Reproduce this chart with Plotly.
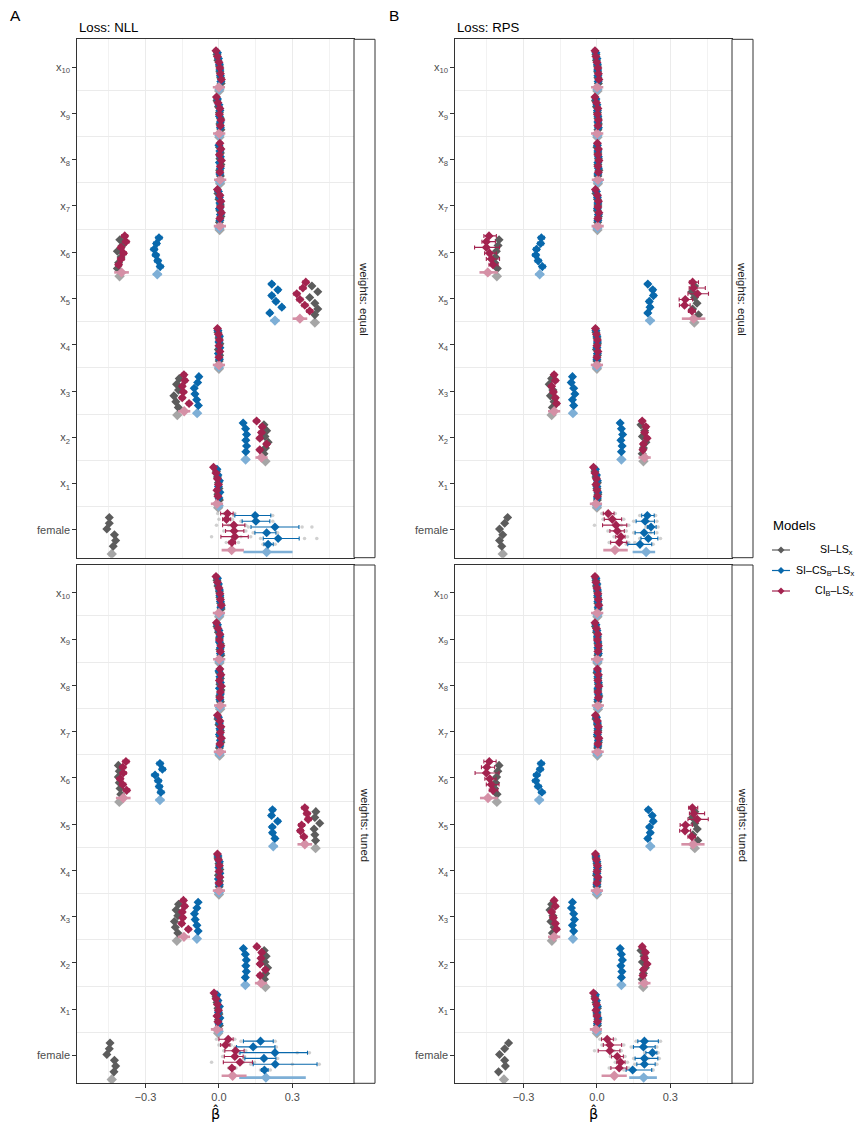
import plotly.graph_objects as go

W, H = 865, 1127
OFF = 8  # page body margin of the html page

# ---------------- data ----------------
categories = ["female", "x1", "x2", "x3", "x4", "x5", "x6", "x7", "x8", "x9", "x10"]
cat_labels = ["female"] + ["x<sub>%d</sub>" % i for i in range(1, 11)]
x_ticks = [-0.3, 0.0, 0.3]
x_tick_labels = ["\u22120.3", "0.0", "0.3"]
model_names = ["SI\u2013LS<sub>x</sub>", "SI\u2013CS<sub>B</sub>\u2013LS<sub>x</sub>", "CI<sub>B</sub>\u2013LS<sub>x</sub>"]
loss_titles = ["Loss: NLL", "Loss: RPS"]
weight_titles = ["weights: equal", "weights: tuned"]

# rows: female, x1..x10 ; columns: runs 1-6 (top to bottom), aggregate
nll_equal_si = [
    [-0.448, -0.448, -0.458, -0.427, -0.422, -0.432, -0.438],
    [-0.010, -0.006, -0.002, 0.000, -0.004, 0.002, -0.003],
    [0.184, 0.195, 0.188, 0.201, 0.190, 0.184, 0.190],
    [-0.162, -0.173, -0.165, -0.184, -0.176, -0.166, -0.170],
    [-0.004, 0.000, 0.004, -0.002, 0.003, 0.001, 0.000],
    [0.380, 0.404, 0.371, 0.392, 0.404, 0.392, 0.392],
    [-0.405, -0.395, -0.415, -0.400, -0.410, -0.415, -0.406],
    [-0.004, 0.000, 0.006, 0.004, 0.008, 0.002, 0.003],
    [0.002, 0.006, 0.004, 0.008, 0.003, 0.006, 0.005],
    [-0.008, -0.002, 0.002, 0.006, 0.004, 0.008, 0.002],
    [-0.008, -0.004, 0.002, 0.004, 0.007, 0.009, 0.001],
]
nll_equal_cs = [
    [0.148, 0.151, 0.229, 0.195, 0.242, 0.201, 0.195],
    [-0.008, -0.004, 0.002, -0.002, 0.004, 0.000, -0.001],
    [0.099, 0.109, 0.113, 0.110, 0.113, 0.110, 0.109],
    [-0.082, -0.087, -0.101, -0.098, -0.091, -0.084, -0.089],
    [-0.004, 0.002, 0.000, 0.004, -0.002, 0.002, 0.000],
    [0.216, 0.241, 0.216, 0.233, 0.257, 0.208, 0.229],
    [-0.245, -0.255, -0.265, -0.258, -0.250, -0.240, -0.252],
    [-0.002, 0.002, 0.004, 0.002, 0.006, 0.004, 0.002],
    [0.000, 0.004, 0.006, 0.002, 0.006, 0.004, 0.004],
    [-0.006, 0.000, 0.004, 0.002, 0.006, 0.006, 0.002],
    [-0.006, -0.002, 0.002, 0.004, 0.006, 0.008, 0.002],
]
nll_equal_ci = [
    [0.035, 0.031, 0.061, 0.062, 0.065, 0.053, 0.052],
    [-0.022, -0.012, -0.006, -0.002, -0.008, -0.004, -0.008],
    [0.154, 0.177, 0.174, 0.167, 0.195, 0.167, 0.174],
    [-0.143, -0.139, -0.150, -0.145, -0.150, -0.122, -0.142],
    [-0.006, -0.002, 0.002, 0.000, 0.004, 0.000, 0.000],
    [0.355, 0.343, 0.318, 0.331, 0.351, 0.371, 0.331],
    [-0.385, -0.380, -0.400, -0.390, -0.400, -0.410, -0.398],
    [-0.006, 0.004, 0.008, 0.006, 0.010, 0.004, 0.004],
    [0.004, 0.008, 0.002, 0.010, 0.006, 0.004, 0.005],
    [-0.010, -0.004, 0.004, 0.002, 0.008, 0.006, 0.001],
    [-0.012, -0.006, 0.000, 0.004, 0.006, 0.010, 0.000],
]

rps_equal_si = [
    [-0.365, -0.377, -0.398, -0.385, -0.398, -0.389, -0.385],
    [-0.008, -0.004, 0.002, 0.000, 0.004, 0.002, 0.000],
    [0.180, 0.195, 0.186, 0.200, 0.190, 0.185, 0.190],
    [-0.185, -0.195, -0.180, -0.190, -0.175, -0.182, -0.185],
    [-0.004, 0.000, 0.002, -0.002, 0.002, 0.000, 0.000],
    [0.399, 0.388, 0.399, 0.409, 0.391, 0.415, 0.398],
    [-0.400, -0.404, -0.411, -0.415, -0.418, -0.407, -0.409],
    [-0.004, 0.002, 0.004, 0.002, 0.006, 0.003, 0.002],
    [0.000, 0.004, 0.006, 0.004, 0.008, 0.004, 0.004],
    [-0.006, -0.002, 0.002, 0.004, 0.006, 0.004, 0.002],
    [-0.004, -0.002, 0.002, 0.003, 0.004, 0.006, 0.002],
]
rps_equal_cs = [
    [0.206, 0.197, 0.221, 0.193, 0.210, 0.176, 0.201],
    [-0.006, -0.002, 0.002, 0.000, 0.004, 0.002, 0.000],
    [0.095, 0.100, 0.105, 0.098, 0.103, 0.100, 0.100],
    [-0.100, -0.105, -0.095, -0.090, -0.100, -0.095, -0.098],
    [-0.004, 0.000, 0.002, 0.000, 0.002, 0.000, 0.000],
    [0.208, 0.228, 0.231, 0.214, 0.217, 0.208, 0.217],
    [-0.227, -0.230, -0.247, -0.250, -0.240, -0.223, -0.234],
    [-0.002, 0.002, 0.004, 0.002, 0.006, 0.004, 0.002],
    [0.002, 0.004, 0.006, 0.004, 0.006, 0.004, 0.004],
    [-0.004, 0.000, 0.002, 0.004, 0.004, 0.006, 0.002],
    [-0.004, 0.000, 0.002, 0.003, 0.004, 0.005, 0.002],
]
rps_equal_ci = [
    [0.046, 0.063, 0.078, 0.083, 0.098, 0.091, 0.074],
    [-0.014, -0.008, -0.002, -0.004, 0.000, 0.002, -0.004],
    [0.185, 0.200, 0.195, 0.205, 0.190, 0.188, 0.195],
    [-0.175, -0.170, -0.185, -0.178, -0.170, -0.165, -0.175],
    [-0.006, -0.002, 0.002, 0.000, 0.004, 0.000, 0.000],
    [0.391, 0.395, 0.411, 0.361, 0.358, 0.388, 0.395],
    [-0.441, -0.452, -0.452, -0.439, -0.432, -0.425, -0.446],
    [-0.006, 0.002, 0.006, 0.004, 0.008, 0.004, 0.003],
    [0.002, 0.006, 0.004, 0.008, 0.004, 0.006, 0.004],
    [-0.008, -0.002, 0.004, 0.002, 0.006, 0.004, 0.001],
    [-0.008, -0.004, 0.000, 0.004, 0.006, 0.008, 0.001],
]

nll_tuned_si = [
    [-0.445, -0.448, -0.458, -0.427, -0.422, -0.429, -0.438],
    [-0.012, -0.008, -0.004, 0.000, -0.002, 0.002, -0.003],
    [0.185, 0.193, 0.188, 0.199, 0.191, 0.186, 0.190],
    [-0.165, -0.175, -0.168, -0.182, -0.178, -0.168, -0.172],
    [-0.004, 0.000, 0.004, -0.002, 0.003, 0.001, 0.000],
    [0.396, 0.392, 0.412, 0.389, 0.392, 0.395, 0.395],
    [-0.411, -0.407, -0.411, -0.407, -0.404, -0.401, -0.407],
    [-0.004, 0.000, 0.006, 0.004, 0.008, 0.002, 0.003],
    [0.002, 0.006, 0.004, 0.008, 0.003, 0.006, 0.005],
    [-0.008, -0.002, 0.002, 0.006, 0.004, 0.008, 0.002],
    [-0.008, -0.004, 0.002, 0.004, 0.007, 0.009, 0.001],
]
nll_tuned_cs = [
    [0.170, 0.140, 0.229, 0.184, 0.230, 0.186, 0.192],
    [-0.008, -0.004, 0.002, -0.002, 0.004, 0.000, -0.001],
    [0.100, 0.108, 0.112, 0.110, 0.112, 0.108, 0.108],
    [-0.085, -0.090, -0.100, -0.097, -0.090, -0.085, -0.090],
    [-0.004, 0.002, 0.000, 0.004, -0.002, 0.002, 0.000],
    [0.219, 0.215, 0.240, 0.218, 0.219, 0.229, 0.222],
    [-0.241, -0.231, -0.261, -0.248, -0.244, -0.237, -0.241],
    [-0.002, 0.002, 0.004, 0.002, 0.006, 0.004, 0.002],
    [0.000, 0.004, 0.006, 0.002, 0.006, 0.004, 0.004],
    [-0.006, 0.000, 0.004, 0.002, 0.006, 0.006, 0.002],
    [-0.006, -0.002, 0.002, 0.004, 0.006, 0.008, 0.002],
]
nll_tuned_ci = [
    [0.038, 0.027, 0.068, 0.065, 0.086, 0.053, 0.056],
    [-0.020, -0.012, -0.006, -0.002, -0.008, -0.004, -0.008],
    [0.155, 0.175, 0.172, 0.168, 0.190, 0.168, 0.172],
    [-0.145, -0.140, -0.150, -0.148, -0.152, -0.125, -0.143],
    [-0.006, -0.002, 0.002, 0.000, 0.004, 0.000, 0.000],
    [0.351, 0.360, 0.365, 0.338, 0.333, 0.347, 0.351],
    [-0.380, -0.393, -0.391, -0.404, -0.393, -0.377, -0.391],
    [-0.006, 0.004, 0.008, 0.006, 0.010, 0.004, 0.004],
    [0.004, 0.008, 0.002, 0.010, 0.006, 0.004, 0.005],
    [-0.010, -0.004, 0.004, 0.002, 0.008, 0.006, 0.001],
    [-0.012, -0.006, 0.000, 0.004, 0.006, 0.010, 0.000],
]

rps_tuned_si = [
    [-0.361, -0.377, -0.398, -0.377, -0.374, -0.402, -0.380],
    [-0.008, -0.004, 0.002, 0.000, 0.004, 0.002, 0.000],
    [0.180, 0.192, 0.186, 0.198, 0.190, 0.185, 0.189],
    [-0.185, -0.192, -0.180, -0.188, -0.175, -0.182, -0.184],
    [-0.004, 0.000, 0.002, -0.002, 0.002, 0.000, 0.000],
    [0.400, 0.390, 0.400, 0.410, 0.392, 0.412, 0.400],
    [-0.400, -0.405, -0.410, -0.414, -0.418, -0.408, -0.409],
    [-0.004, 0.002, 0.004, 0.002, 0.006, 0.003, 0.002],
    [0.000, 0.004, 0.006, 0.004, 0.008, 0.004, 0.004],
    [-0.006, -0.002, 0.002, 0.004, 0.006, 0.004, 0.002],
    [-0.004, -0.002, 0.002, 0.003, 0.004, 0.006, 0.002],
]
rps_tuned_cs = [
    [0.194, 0.190, 0.227, 0.194, 0.194, 0.146, 0.191],
    [-0.006, -0.002, 0.002, 0.000, 0.004, 0.002, 0.000],
    [0.095, 0.100, 0.104, 0.098, 0.102, 0.100, 0.100],
    [-0.100, -0.104, -0.095, -0.092, -0.100, -0.095, -0.098],
    [-0.004, 0.000, 0.002, 0.000, 0.002, 0.000, 0.000],
    [0.210, 0.226, 0.230, 0.215, 0.218, 0.208, 0.218],
    [-0.228, -0.232, -0.246, -0.250, -0.240, -0.225, -0.236],
    [-0.002, 0.002, 0.004, 0.002, 0.006, 0.004, 0.002],
    [0.002, 0.004, 0.006, 0.004, 0.006, 0.004, 0.004],
    [-0.004, 0.000, 0.002, 0.004, 0.004, 0.006, 0.002],
    [-0.004, 0.000, 0.002, 0.003, 0.004, 0.005, 0.002],
]
rps_tuned_ci = [
    [0.042, 0.053, 0.053, 0.083, 0.097, 0.091, 0.071],
    [-0.014, -0.008, -0.002, -0.004, 0.000, 0.002, -0.004],
    [0.185, 0.198, 0.195, 0.205, 0.190, 0.188, 0.194],
    [-0.175, -0.170, -0.185, -0.178, -0.170, -0.165, -0.175],
    [-0.006, -0.002, 0.002, 0.000, 0.004, 0.000, 0.000],
    [0.390, 0.396, 0.410, 0.362, 0.360, 0.388, 0.393],
    [-0.440, -0.450, -0.452, -0.438, -0.432, -0.425, -0.445],
    [-0.006, 0.002, 0.006, 0.004, 0.008, 0.004, 0.003],
    [0.002, 0.006, 0.004, 0.008, 0.004, 0.006, 0.004],
    [-0.008, -0.002, 0.004, 0.002, 0.006, 0.004, 0.001],
    [-0.008, -0.004, 0.000, 0.004, 0.006, 0.008, 0.001],
]

# typical error-bar half widths per category (runs / aggregate)
run_half_cs = [0.0, 0.006, 0.008, 0.008, 0.006, 0.010, 0.012, 0.006, 0.006, 0.006, 0.006]
run_half_ci = [0.0, 0.008, 0.010, 0.010, 0.008, 0.012, 0.012, 0.008, 0.008, 0.008, 0.008]
agg_half_cs = [0.0, 0.015, 0.015, 0.015, 0.015, 0.018, 0.018, 0.015, 0.015, 0.015, 0.015]
agg_half_ci = [0.0, 0.025, 0.025, 0.025, 0.025, 0.030, 0.030, 0.025, 0.025, 0.025, 0.025]

# explicit lower / upper limits where they are wide (runs 1-6, aggregate)
nll_equal_ci_lim = {
    "female": ([0.007, 0.015, 0.015, 0.027, 0.008, 0.041, 0.011], [0.058, 0.048, 0.106, 0.102, 0.120, 0.068, 0.102]),
}
nll_equal_cs_lim = {
    "female": ([0.065, 0.095, 0.131, 0.147, 0.181, 0.184, 0.100], [0.212, 0.208, 0.327, 0.233, 0.328, 0.222, 0.301]),
}
rps_equal_ci_lim = {
    "female": ([0.026, 0.030, 0.023, 0.053, 0.077, 0.056, 0.026], [0.070, 0.101, 0.122, 0.112, 0.115, 0.122, 0.126]),
    "x5": ([0.378, 0.377, 0.372, 0.336, 0.337, 0.374, 0.347], [0.415, 0.443, 0.456, 0.391, 0.381, 0.402, 0.443]),
    "x6": ([-0.462, -0.470, -0.500, -0.459, -0.452, -0.441, -0.480], [-0.411, -0.415, -0.398, -0.411, -0.398, -0.404, -0.405]),
}
rps_equal_cs_lim = {
    "female": ([0.183, 0.160, 0.206, 0.156, 0.180, 0.126, 0.146], [0.234, 0.235, 0.242, 0.235, 0.249, 0.224, 0.238]),
}
nll_tuned_ci_lim = {
    "female": ([0.000, 0.007, 0.024, 0.022, 0.018, 0.045, 0.011], [0.058, 0.045, 0.103, 0.099, 0.137, 0.065, 0.113]),
}
nll_tuned_cs_lim = {
    "female": ([0.100, 0.072, 0.086, 0.106, 0.140, 0.174, 0.083], [0.222, 0.229, 0.362, 0.233, 0.401, 0.201, 0.355]),
}
rps_tuned_ci_lim = {
    "female": ([0.019, 0.026, 0.005, 0.060, 0.081, 0.057, 0.019], [0.067, 0.101, 0.094, 0.108, 0.115, 0.122, 0.122]),
    "x5": ([0.375, 0.378, 0.372, 0.340, 0.338, 0.372, 0.345], [0.412, 0.440, 0.455, 0.390, 0.383, 0.402, 0.440]),
    "x6": ([-0.462, -0.472, -0.498, -0.458, -0.452, -0.440, -0.478], [-0.412, -0.418, -0.400, -0.412, -0.400, -0.405, -0.405]),
}
rps_tuned_cs_lim = {
    "female": ([0.167, 0.149, 0.200, 0.156, 0.163, 0.119, 0.132], [0.251, 0.238, 0.245, 0.249, 0.238, 0.224, 0.245]),
}

# individual member estimates for the 'female' runs (light grey dots)
nll_equal_female_dots_ci = [[-0.005, 0.065, 0.02], [0.0, 0.055], [-0.01, 0.11, 0.04], [0.02, 0.11], [-0.03, 0.13, 0.09], [0.03, 0.08]]
nll_equal_female_dots_cs = [[0.06, 0.22], [0.09, 0.22, 0.16], [0.12, 0.34, 0.38], [0.14, 0.24], [0.17, 0.35, 0.40], [0.18, 0.23]]
rps_equal_female_dots_ci = [[0.02, 0.075], [0.025, 0.11, 0.05], [-0.01, 0.13, 0.10], [0.045, 0.12], [0.07, 0.125], [0.05, 0.13, 0.155]]
rps_equal_female_dots_cs = [[0.175, 0.24], [0.15, 0.245, 0.21], [0.20, 0.25], [0.15, 0.245, 0.22], [0.175, 0.26], [0.12, 0.23, 0.09]]
nll_tuned_female_dots_ci = [[-0.01, 0.065], [0.0, 0.05, 0.03], [0.02, 0.11, 0.06], [0.015, 0.105], [-0.03, 0.145, 0.10], [0.04, 0.07]]
nll_tuned_female_dots_cs = [[0.09, 0.23], [0.065, 0.235, 0.15], [0.08, 0.37, 0.32], [0.10, 0.24], [0.13, 0.41, 0.30], [0.17, 0.21]]
rps_tuned_female_dots_ci = [[0.012, 0.075], [0.02, 0.11, 0.06], [-0.01, 0.10, 0.07], [0.055, 0.115], [0.075, 0.125], [0.05, 0.13]]
rps_tuned_female_dots_cs = [[0.16, 0.26], [0.14, 0.245, 0.20], [0.195, 0.25], [0.15, 0.255, 0.21], [0.155, 0.245], [0.11, 0.23]]

# ---------------- styling ----------------
COL = {"si": "#5C5C5C", "cs": "#0868AC", "ci": "#A3234F"}
COL_LIGHT = {"si": "#A6A6A6", "cs": "#7EAFD6", "ci": "#D590A6"}
DOT_COL = "rgba(170,170,170,0.55)"
GRID = "#EBEBEB"
FONT = "Liberation Sans, Arial, Helvetica, sans-serif"

panel_x_px = [(77, 354), (455, 732)]
panel_y_px = [(39.3, 557.7), (565.0, 1083.3)]
STRIP_W = 21
X_RANGE = [-0.58, 0.552]
Y_RANGE = [0.4, 11.6]
SLOT = 0.0415
ORDER = {"ci": 0, "cs": 1, "si": 2}

FW, FH = W - OFF, H - OFF


def px2x(p):
    return (p - OFF) / FW


def px2y(p):
    return 1 - (p - OFF) / FH


def slot_offset(run, model):
    k = 3 * run + ORDER[model] if run < 6 else 19 + ORDER[model]
    return (8.5 - k) * SLOT


panels = [
    dict(col=0, row=0, si=nll_equal_si, cs=nll_equal_cs, ci=nll_equal_ci,
         lim_cs=nll_equal_cs_lim, lim_ci=nll_equal_ci_lim,
         dots_cs=nll_equal_female_dots_cs, dots_ci=nll_equal_female_dots_ci),
    dict(col=1, row=0, si=rps_equal_si, cs=rps_equal_cs, ci=rps_equal_ci,
         lim_cs=rps_equal_cs_lim, lim_ci=rps_equal_ci_lim,
         dots_cs=rps_equal_female_dots_cs, dots_ci=rps_equal_female_dots_ci),
    dict(col=0, row=1, si=nll_tuned_si, cs=nll_tuned_cs, ci=nll_tuned_ci,
         lim_cs=nll_tuned_cs_lim, lim_ci=nll_tuned_ci_lim,
         dots_cs=nll_tuned_female_dots_cs, dots_ci=nll_tuned_female_dots_ci),
    dict(col=1, row=1, si=rps_tuned_si, cs=rps_tuned_cs, ci=rps_tuned_ci,
         lim_cs=rps_tuned_cs_lim, lim_ci=rps_tuned_ci_lim,
         dots_cs=rps_tuned_female_dots_cs, dots_ci=rps_tuned_female_dots_ci),
]

fig = go.Figure()
layout_axes = {}
shapes = []
annotations = []


def add_text(px, py, text, size, color="black", xanchor="center", yanchor="middle", angle=0, family=FONT):
    annotations.append(dict(x=px2x(px), y=px2y(py), xref="paper", yref="paper",
                            xanchor=xanchor, yanchor=yanchor, text=text, textangle=angle,
                            showarrow=False, font=dict(size=size, color=color, family=family)))


for i, p in enumerate(panels):
    sfx = "" if i == 0 else str(i + 1)
    xa, ya = "x" + sfx, "y" + sfx
    x0, x1 = panel_x_px[p["col"]]
    y0, y1 = panel_y_px[p["row"]]
    bottom = p["row"] == 1

    layout_axes["xaxis" + sfx] = dict(
        domain=[px2x(x0), px2x(x1)], range=X_RANGE, anchor=ya,
        tickvals=x_ticks, ticktext=x_tick_labels,
        showticklabels=bottom, ticks="outside" if bottom else "",
        ticklen=3.7, tickwidth=1, tickcolor="#333333",
        tickfont=dict(size=11, color="#4D4D4D", family=FONT),
        showgrid=True, gridcolor=GRID, gridwidth=1.1,
        minor=dict(tickvals=[-0.45, -0.15, 0.15, 0.45], showgrid=True,
                   gridcolor="#F2F2F2", gridwidth=0.6, ticks=""),
        zeroline=False, showline=True, mirror=True, linecolor="#333333", linewidth=1,
    )
    layout_axes["yaxis" + sfx] = dict(
        domain=[px2y(y1), px2y(y0)], range=Y_RANGE, anchor=xa,
        tickvals=list(range(1, 12)), ticktext=cat_labels,
        ticks="outside", ticklen=3.7, tickwidth=1, tickcolor="#333333",
        tickfont=dict(size=11, color="#4D4D4D", family=FONT),
        showgrid=False,
        minor=dict(tickvals=[c + 1.5 for c in range(10)], showgrid=True,
                   gridcolor=GRID, gridwidth=1.1, ticks=""),
        zeroline=False, showline=True, mirror=True, linecolor="#333333", linewidth=1,
    )

    # light grey member dots for 'female'
    dx, dy = [], []
    for key in ("ci", "cs"):
        for r, vals in enumerate(p["dots_" + key]):
            for v in vals:
                dx.append(v)
                dy.append(1 + slot_offset(r, key))
    fig.add_trace(go.Scatter(x=dx, y=dy, xaxis=xa, yaxis=ya, mode="markers",
                             marker=dict(size=3.5, color=DOT_COL), showlegend=False,
                             hoverinfo="skip"))

    for key in ("si", "cs", "ci"):
        data = p[key]
        lims = p.get("lim_" + key, {})
        rx, ry, rplus, rminus = [], [], [], []
        ax, ay, aplus, aminus = [], [], [], []
        for c, cat in enumerate(categories):
            row = data[c]
            for r in range(7):
                v = row[r]
                if cat in lims:
                    lo, hi = lims[cat][0][r], lims[cat][1][r]
                    mi, pl = v - lo, hi - v
                else:
                    if key == "si":
                        h = 0.0
                    elif r < 6:
                        h = (run_half_cs if key == "cs" else run_half_ci)[c]
                    else:
                        h = (agg_half_cs if key == "cs" else agg_half_ci)[c]
                    mi, pl = h, h
                yy = c + 1 + slot_offset(r, key)
                if r < 6:
                    rx.append(v); ry.append(yy); rplus.append(pl); rminus.append(mi)
                else:
                    ax.append(v); ay.append(yy); aplus.append(pl); aminus.append(mi)
        fig.add_trace(go.Scatter(
            x=ax, y=ay, xaxis=xa, yaxis=ya, mode="markers",
            marker=dict(symbol="diamond", size=8, color=COL_LIGHT[key], line=dict(width=0)),
            error_x=dict(type="data", symmetric=False, array=aplus, arrayminus=aminus,
                         color=COL_LIGHT[key], thickness=2.6, width=0),
            showlegend=False, hoverinfo="skip"))
        fig.add_trace(go.Scatter(
            x=rx, y=ry, xaxis=xa, yaxis=ya, mode="markers",
            marker=dict(symbol="diamond", size=7, color=COL[key], line=dict(width=0)),
            error_x=dict(type="data", symmetric=False, array=rplus, arrayminus=rminus,
                         color=COL[key], thickness=1.1, width=2),
            showlegend=False, hoverinfo="skip"))

# strips on the right
for r in range(2):
    y0, y1 = panel_y_px[r]
    for c in range(2):
        x1 = panel_x_px[c][1]
        shapes.append(dict(type="rect", xref="paper", yref="paper",
                           x0=px2x(x1), x1=px2x(x1 + STRIP_W), y0=px2y(y1), y1=px2y(y0),
                           line=dict(color="#333333", width=1), fillcolor="white", layer="above"))
        add_text(x1 + STRIP_W / 2, (y0 + y1) / 2, weight_titles[r], 11.4, color="#1A1A1A", angle=90)

# panel titles, tags, axis titles
for c in range(2):
    x0, x1 = panel_x_px[c]
    add_text(x0, 27, loss_titles[c], 13.2, xanchor="left")
    add_text((x0 + x1) / 2, 1113, "\u03b2\u0302", 14.5, family="DejaVu Sans")
add_text(16, 16, "A", 15.5)
add_text(394, 16, "B", 15.5)

# legend (drawn manually: labels right aligned)
LEG_X = 771
add_text(LEG_X, 526, "Models", 13.2, xanchor="left")
leg_y = [550, 570.5, 591]
leg_label_left = [818, 794, 813]
for j, key in enumerate(("si", "cs", "ci")):
    yy = leg_y[j]
    shapes.append(dict(type="line", xref="paper", yref="paper", x0=px2x(LEG_X + 1), x1=px2x(LEG_X + 19),
                       y0=px2y(yy), y1=px2y(yy), line=dict(color=COL[key], width=1.2)))
    cx = LEG_X + 10
    path = "M %f %f L %f %f L %f %f L %f %f Z" % (
        px2x(cx), px2y(yy - 3.5), px2x(cx + 3.5), px2y(yy), px2x(cx), px2y(yy + 3.5), px2x(cx - 3.5), px2y(yy))
    shapes.append(dict(type="path", xref="paper", yref="paper", path=path,
                       fillcolor=COL[key], line=dict(width=0)))
    add_text(leg_label_left[j], yy, model_names[j], 10.6, xanchor="left")

fig.update_layout(
    width=FW, height=FH, margin=dict(l=0, r=0, t=0, b=0),
    paper_bgcolor="white", plot_bgcolor="white",
    showlegend=False, shapes=shapes, annotations=annotations,
    font=dict(family=FONT),
    **layout_axes,
)

fig.write_html("out.html")
